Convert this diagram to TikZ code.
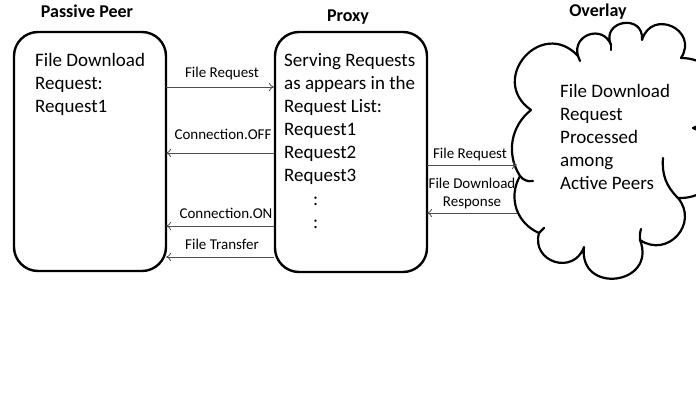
\documentclass[tikz,border=0pt]{standalone}
\usepackage{fontspec}
\setmainfont{Carlito}
\usetikzlibrary{arrows.meta}
\begin{document}
\begin{tikzpicture}[x=1pt,y=-1pt,
  boxstyle/.style={draw,line width=2.4pt,rounded corners=24pt},
  cloudline/.style={draw,line width=2.2pt,line join=round,line cap=round},
  body/.style={anchor=north west,inner sep=0pt,font=\fontsize{19}{23}\selectfont,align=left},
  ttl/.style={anchor=base,inner sep=0pt,font=\bfseries\fontsize{18}{21}\selectfont},
  lbl/.style={anchor=base,inner sep=0pt,font=\fontsize{15}{18}\selectfont,align=center},
  conn/.style={draw=black!70,line width=0.8pt,-{To[length=5pt,width=8pt]}}]
\useasboundingbox (0,0) rectangle (696,401);
% boxes
\draw[boxstyle] (14,32) rectangle (166,271);
\draw[boxstyle] (275,32) rectangle (427,272);
% cloud
\draw[cloudline] (531,110)
  to[bend left=96,looseness=1.9] (578,56)
  to[bend left=88,looseness=1.65] (611,45)
  to[bend left=104,looseness=2.2] (642,40)
  to[bend left=98,looseness=2.0] (681,58)
  to[bend left=80,looseness=1.6] (693,128)
  to[bend left=80,looseness=1.6] (678,198)
  to[bend left=82,looseness=1.5] (640,240)
  to[bend left=104,looseness=2.2] (584,247)
  to[bend left=88,looseness=1.65] (539,233)
  to[bend left=48,looseness=1.05] (520,176)
  to[bend left=42,looseness=1.0] (531,110);
% small inner hooks of the cloud
\draw[cloudline] (520,176) to[bend right=30] (533,181);
\draw[cloudline] (578,56) -- (580,61);
\draw[cloudline] (611,45) -- (611,50);
\draw[cloudline] (640,240) to[bend left=10] (641,229);
\draw[cloudline] (539,233) -- (544,228);
\draw[cloudline] (678,198) to[bend left=25] (663,158);
% titles
\node[ttl] (t1) at (87,18) {Passive Peer};
\node[ttl] (t2) at (348,22) {Proxy};
\node[ttl] (t3) at (598,17) {Overlay};
% texts (first baseline minus strut height 16.1)
\node[body] (pp) at (35,49.9) {\strut File Download\\Request:\\Request1};
\node[body] (px) at (284,49.9) {\strut Serving Requests\\as appears in the\\Request List:\\Request1\\Request2\\Request3};
\node[body] (c1) at (313,188.9) {\strut :};
\node[body] (c2) at (313,211.9) {\strut :};
\node[body] (ovt) at (560,80.9) {\strut File Download\\Request\\Processed\\among\\Active Peers};
% connector anchors
\coordinate (a1) at (166,87); \coordinate (b1) at (274,87);
\coordinate (a2) at (166,153); \coordinate (b2) at (274,153);
\coordinate (a3) at (166,226); \coordinate (b3) at (274,226);
\coordinate (a4) at (166,257); \coordinate (b4) at (274,257);
\coordinate (c5) at (427,165); \coordinate (d5) at (517,165);
\coordinate (c6) at (427,213); \coordinate (d6) at (517,213);
\draw[conn] (a1) -- (b1);
\draw[conn] (b2) -- (a2);
\draw[conn] (b3) -- (a3);
\draw[conn] (b4) -- (a4);
\draw[conn] (c5) -- (d5);
\draw[conn] (d6) -- (c6);
% labels
\node[lbl] (l1) at (222,78) {File Request};
\node[lbl] (l2) at (223,140) {Connection.OFF};
\node[lbl] (l3) at (226,218) {Connection.ON};
\node[lbl] (l4) at (222,249) {File Transfer};
\node[lbl] (l5) at (470,158) {File Request};
\node[lbl] (l6) at (472,206) {File Download\\Response};
\end{tikzpicture}
\end{document}
